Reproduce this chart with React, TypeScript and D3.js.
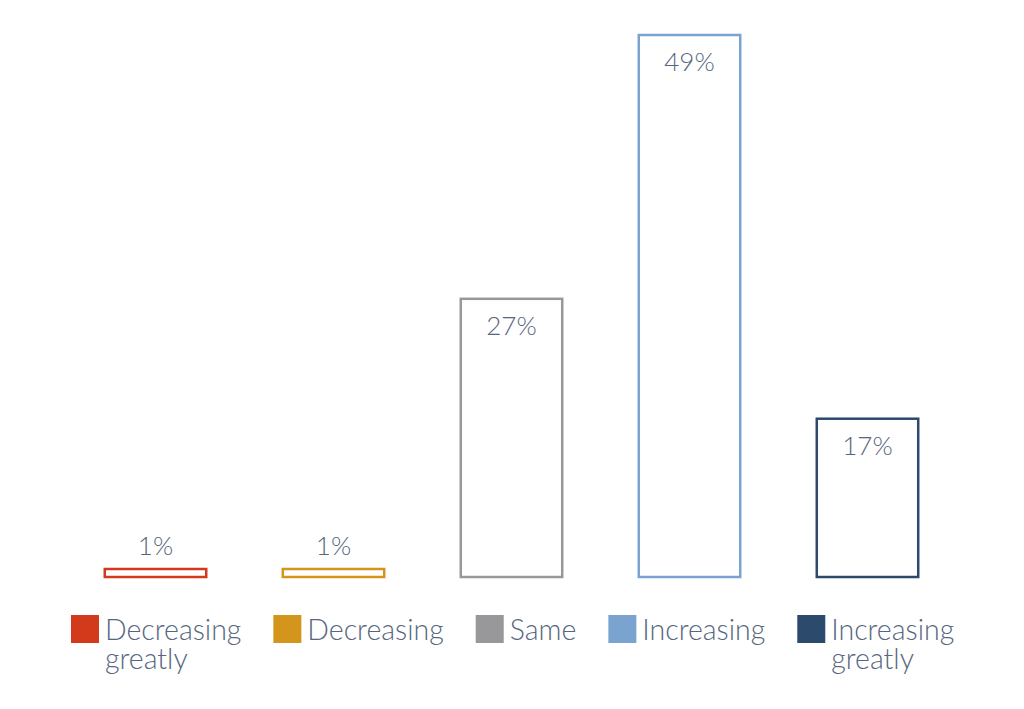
import React, { useEffect, useRef } from "react";
import * as d3 from "d3";

const categories = ["Decreasing greatly", "Decreasing", "Same", "Increasing", "Increasing greatly"];
const legendLines = [["Decreasing", "greatly"], ["Decreasing"], ["Same"], ["Increasing"], ["Increasing", "greatly"]];
const values = [1, 1, 27, 49, 17];
const colors = ["#d33a1c", "#d4951d", "#98989b", "#7ba3d0", "#2b4a6c"];

const W = 1024;
const H = 709;
const TEXT = "#56667e";
const FONT = "Lato, 'Open Sans', sans-serif";

export default function App() {
  const ref = useRef<SVGSVGElement | null>(null);

  useEffect(() => {
    const svg = d3.select(ref.current);
    svg.selectAll("*").remove();

    const x = d3.scaleBand<string>().domain(categories).range([66.5, 956.5]).paddingInner(0.43).paddingOuter(0.215);
    const y = d3.scaleLinear().domain([3.8, 49]).range([577, 35]);
    const base = 577;
    const minH = 8;

    const g = svg.append("g");
    const bars = g.selectAll("g.bar").data(values).enter().append("g");
    bars.append("rect")
      .attr("x", (_, i) => x(categories[i])!)
      .attr("width", x.bandwidth())
      .attr("y", (d) => Math.min(y(d), base - minH))
      .attr("height", (d) => Math.max(base - y(d), minH))
      .attr("fill", "#fff")
      .attr("stroke", (_, i) => colors[i])
      .attr("stroke-width", 2.5);

    bars.append("text")
      .attr("x", (_, i) => x(categories[i])! + x.bandwidth() / 2)
      .attr("y", (d) => {
        const top = Math.min(y(d), base - minH);
        return base - top > 60 ? top + 36 : top - 14;
      })
      .attr("text-anchor", "middle")
      .attr("font-family", FONT)
      .attr("font-weight", 300)
      .attr("font-size", 26)
      .attr("fill", TEXT)
      .text((d) => `${d}%`);

    // legend flow layout
    let lx = 71;
    const ly = 615;
    legendLines.forEach((lines, i) => {
      const item = svg.append("g");
      item.append("rect").attr("x", lx).attr("y", ly).attr("width", 28).attr("height", 28).attr("fill", colors[i]);
      const t = item.append("text")
        .attr("font-family", FONT)
        .attr("font-weight", 300)
        .attr("font-size", 28.5)
        .attr("fill", TEXT);
      lines.forEach((ln, j) => {
        t.append("tspan").attr("x", lx + 34).attr("y", ly + 25 + j * 29).text(ln);
      });
      const w = (t.node() as SVGTextElement).getBBox().width;
      lx = lx + 34 + w + 32;
    });
  }, []);

  return (
    <svg
      ref={ref}
      width={W}
      height={H}
      style={{ position: "absolute", left: 0, top: 0, background: "#fff" }}
    />
  );
}
